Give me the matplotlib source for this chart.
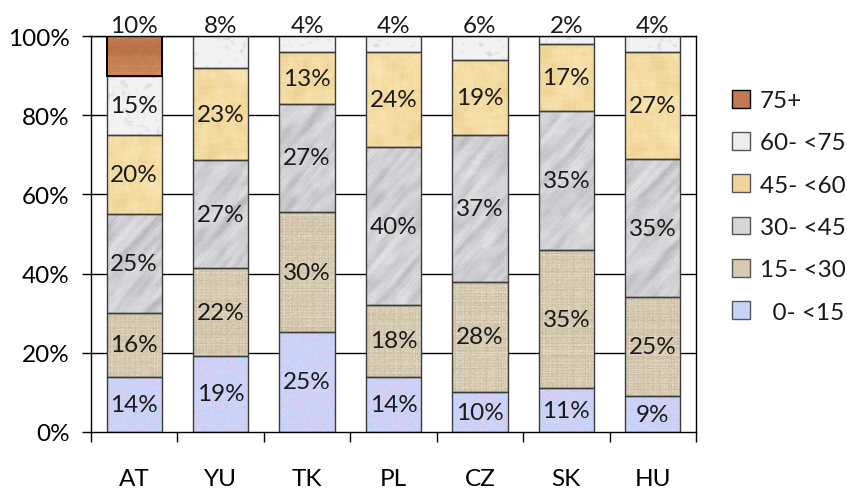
import numpy as np
import matplotlib.pyplot as plt
from matplotlib.patches import Patch

plt.rcParams['font.family'] = ['Lato', 'DejaVu Sans']
plt.rcParams['text.color'] = '#1a1a1a'

countries = ['AT', 'YU', 'TK', 'PL', 'CZ', 'SK', 'HU']
age_labels = ['  0- <15', '15- <30', '30- <45', '45- <60', '60- <75', '75+']

# share of area per age class (%)
age_0_15 = [14, 19, 25, 14, 10, 11, 9]
age_15_30 = [16, 22, 30, 18, 28, 35, 25]
age_30_45 = [25, 27, 27, 40, 37, 35, 35]
age_45_60 = [20, 23, 13, 24, 19, 17, 27]
age_60_75 = [15, 8, 4, 4, 6, 2, 4]
age_75_up = [10, 0, 0, 0, 0, 0, 0]

series = [age_0_15, age_15_30, age_30_45, age_45_60, age_60_75, age_75_up]
kinds = ['sky', 'linen', 'marble', 'papyrus', 'whitemarble', 'wood']
base_cols = ['#c6d4f7', '#d8cbb0', '#d6d6d8', '#efd59c', '#ededed', '#c07a50']
FS = 17.5

rng = np.random.default_rng(3)


def blur(a, k):
    p = np.pad(a, k, mode='wrap')
    ker = np.ones(2 * k + 1) / (2 * k + 1)
    p = np.apply_along_axis(np.convolve, 0, p, ker, mode='same')
    p = np.apply_along_axis(np.convolve, 1, p, ker, mode='same')
    return p[k:-k, k:-k]


def norm(a):
    return (a - a.min()) / (a.max() - a.min() + 1e-9)


def mix(c1, c2, t):
    c1 = np.array(c1)[None, None, :]
    c2 = np.array(c2)[None, None, :]
    return c1 * (1 - t[:, :, None]) + c2 * t[:, :, None]


def texture(kind, H=420, W=60):
    fine = rng.random((H, W))
    if kind == 'sky':
        n = norm(blur(rng.random((H, W)), 4))
        img = mix((0.74, 0.85, 1.0), (0.86, 0.80, 0.94), n)
        img += (fine[:, :, None] - 0.5) * 0.04
    elif kind == 'linen':
        rows = rng.random(H)[:, None]
        cols = rng.random(W)[None, :]
        t = 0.5 * rows + 0.5 * cols
        t = 0.55 * t + 0.45 * fine
        img = mix((0.78, 0.72, 0.60), (0.94, 0.90, 0.82), t)
        lines = ((np.arange(H) % 3 == 0)[:, None]) | ((np.arange(W) % 3 == 0)[None, :])
        img[lines] *= 0.95
    elif kind == 'marble':
        v = blur(rng.random((H, W + H)), 3)
        v = np.apply_along_axis(np.convolve, 0, v, np.ones(31) / 31, mode='same')
        sheared = np.array([np.roll(v[i], -int(i * 0.8)) for i in range(H)])[:, :W]
        t = norm(sheared)
        t = np.clip((t - 0.55) * 2.2, 0, 1) ** 1.5
        soft = norm(blur(rng.random((H, W)), 6))
        img = mix((0.94, 0.94, 0.95), (0.68, 0.68, 0.70), 0.8 * t + 0.2 * soft)
        img += (fine[:, :, None] - 0.5) * 0.03
    elif kind == 'papyrus':
        n = norm(blur(rng.random((H, W)), 6))
        img = mix((0.93, 0.81, 0.55), (0.98, 0.91, 0.72), n)
        lines = ((np.arange(H) % 4 == 0)[:, None]) | ((np.arange(W) % 4 == 0)[None, :])
        img[lines] = img[lines] * 0.97 + 0.03
        img += (fine[:, :, None] - 0.5) * 0.03
    elif kind == 'whitemarble':
        n = norm(blur(rng.random((H, W)), 2))
        t = np.clip((n - 0.6) * 2.5, 0, 1)
        img = mix((0.95, 0.95, 0.95), (0.80, 0.80, 0.82), t)
    else:
        rows = norm(blur(rng.random((H, 1)) * np.ones((1, W)), 2))
        t = 0.7 * rows + 0.3 * norm(blur(fine, 1))
        img = mix((0.84, 0.56, 0.38), (0.68, 0.40, 0.24), t)
    return np.clip(img, 0, 1)


textures = [texture(k) for k in kinds]

fig = plt.figure(figsize=(8.47, 4.89), dpi=100)
ax = fig.add_axes([91 / 847, 56 / 489, 605 / 847, 396 / 489])

x = np.arange(len(countries))
width = 0.64
totals = np.sum(series, axis=0)
shares = [np.array(s) / totals * 100 for s in series]

ax.set_xlim(-0.5, len(countries) - 0.5)
ax.set_ylim(0, 100)
for yv in [20, 40, 60, 80, 100]:
    ax.axhline(yv, color='black', lw=1, zorder=0)

bottom = np.zeros(len(countries))
px_per_unit = 396 / 100
for si, (vals, sh) in enumerate(zip(series, shares)):
    lw = 1.4 if kinds[si] == 'wood' else 1.0
    ec = 'black' if kinds[si] == 'wood' else '#3c3c3c'
    bars = ax.bar(x, sh, width, bottom=bottom, color=base_cols[si], edgecolor='none', zorder=2)
    for ci, rect in enumerate(bars):
        h = rect.get_height()
        if h <= 0:
            continue
        hpx = max(int(round(h * px_per_unit)), 2)
        off = (ci * 47 + si * 13) % (textures[si].shape[0] - hpx)
        ax.imshow(textures[si][off:off + hpx, :55], extent=[rect.get_x(), rect.get_x() + rect.get_width(),
                  rect.get_y(), rect.get_y() + h], aspect='auto', interpolation='bilinear', zorder=2.5)
    ax.bar(x, sh, width, bottom=bottom, fill=False, edgecolor=ec, linewidth=lw, zorder=3)
    bottom = bottom + sh

# value labels: inside the segment, the uppermost one sits above the bar
for ci in range(len(countries)):
    top_si = max(si for si in range(len(series)) if series[si][ci] > 0)
    b = 0
    for si in range(len(series)):
        v = series[si][ci]
        h = shares[si][ci]
        if v > 0:
            if si == top_si:
                ax.annotate(f'{v}%', (x[ci], 100), xytext=(0, 0), textcoords='offset points',
                            ha='center', va='bottom', fontsize=FS, annotation_clip=False)
            else:
                ax.text(x[ci], b + h / 2, f'{v}%', ha='center', va='center', fontsize=FS, zorder=4)
        b += h

ax.set_xlim(-0.5, len(countries) - 0.5)
ax.set_ylim(0, 100)
ax.set_yticks([0, 20, 40, 60, 80, 100])
ax.set_yticklabels([f'{v}%' for v in [0, 20, 40, 60, 80, 100]], fontsize=FS)
ax.set_xticks(x)
ax.set_xticklabels(countries, fontsize=FS)
ax.set_xticks(np.arange(-0.5, len(countries)), minor=True)
ax.tick_params(axis='x', which='major', length=0, pad=26)
ax.tick_params(axis='x', which='minor', length=7, width=1, direction='out')
ax.tick_params(axis='y', length=6.5, width=1, direction='out', pad=9)
for sp in ax.spines.values():
    sp.set_color('black')
    sp.set_linewidth(1)

handles = [Patch(facecolor=base_cols[i], edgecolor='#555555' if i < 5 else 'black', lw=1)
           for i in range(len(series))][::-1]
fig.legend(handles, age_labels[::-1], loc='upper left', bbox_to_anchor=(722 / 847, 1 - 81 / 489),
           frameon=False, fontsize=FS, handlelength=0.75, handleheight=0.75,
           handletextpad=0.4, labelspacing=0.86, borderaxespad=0)

fig.savefig('out.png', dpi=100)
